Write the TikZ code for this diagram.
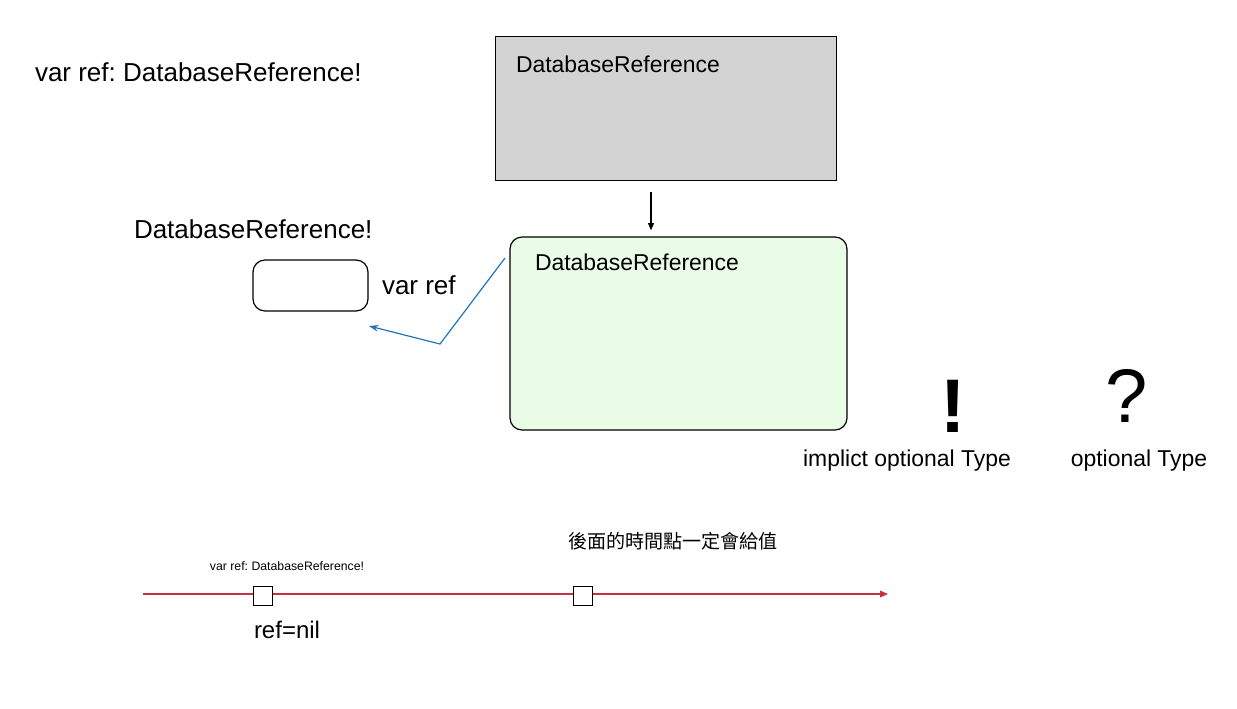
\documentclass[tikz,border=0pt]{standalone}
\usepackage{fontspec}
\setmainfont{Liberation Sans}
\newfontfamily\cjk{Noto Sans CJK TC}
\usetikzlibrary{arrows.meta}
\definecolor{boxgray}{HTML}{D3D3D3}
\definecolor{boxgreen}{HTML}{E8FCE6}
\definecolor{lineblue}{HTML}{1F74BF}
\definecolor{linered}{HTML}{C8303F}
\frenchspacing
\tikzset{
  lbl/.style={inner sep=0pt, outer sep=0pt, font=#1},
  lbl/.default={\fontsize{19.5}{22}\selectfont},
  bigbox/.style={draw=black, line width=0.9pt, inner sep=0pt, outer sep=0pt},
  tick/.style={draw=black, fill=white, line width=0.9pt, minimum width=14pt, minimum height=14pt, inner sep=0pt},
}
\begin{document}
\begin{tikzpicture}[x=0.75pt, y=-0.75pt]
\useasboundingbox (0,0) rectangle (1237,708);
% title
\node[lbl, anchor=west] (title) at (35,72) {var ref: DatabaseReference!};
% gray box
\node[bigbox, fill=boxgray, minimum width=256pt, minimum height=108.5pt] (gray) at (666,108.5) {};
\node[lbl={\fontsize{17.2}{20}\selectfont}, anchor=west] (graylbl) at (516,64) {DatabaseReference};
% green box
\node[bigbox, fill=boxgreen, rounded corners=9pt, minimum width=252.75pt, minimum height=144.75pt] (green) at (678.5,333.5) {};
\node[lbl={\fontsize{17.2}{20}\selectfont}, anchor=west] (greenlbl) at (535,262) {DatabaseReference};
% arrow gray -> green
\draw[line width=0.9pt, -{Triangle[length=5.5pt,width=4.5pt]}, shorten <=8pt, shorten >=5pt] (gray.south -| 651,0) -- (green.north -| 651,0);
% left label and small box
\node[lbl, anchor=west] (dbr) at (134,229) {DatabaseReference!};
\node[bigbox, fill=white, rounded corners=9pt, minimum width=86.25pt, minimum height=38.25pt] (var) at (310.5,285.5) {};
\node[lbl, anchor=west] (varlbl) at (382,285) {var ref};
% blue connector
\coordinate (bstart) at (505,258);
\coordinate (bbend) at (440,344);
\coordinate (bend) at (369,326);
\draw[lineblue, line width=0.9pt, -{Stealth[length=7pt,width=5pt]}] (bstart) -- (bbend) -- (bend);
% ! and ?
\node[lbl={\fontsize{57}{60}\selectfont\bfseries}] (excl) at (953,406) {!};
\node[lbl={\fontsize{57}{60}\selectfont}] (ques) at (1127,396) {?};
\node[lbl={\fontsize{17.2}{20}\selectfont}] (impl) at (907,461) {implict optional Type};
\node[lbl={\fontsize{17.2}{20}\selectfont}] (opt) at (1139,461) {optional Type};
% timeline
\node[lbl={\fontsize{14.3}{16}\cjk}] (later) at (673,541) {後面的時間點一定會給值};
\node[lbl={\fontsize{9.2}{11}\selectfont}] (small) at (287,566) {var ref: DatabaseReference!};
\coordinate (tstart) at (143,594);
\coordinate (tend) at (888,594);
\draw[linered, line width=0.9pt, -{Triangle[length=6pt,width=5pt]}] (tstart) -- (tend);
\node[tick] (t1) at (263,596) {};
\node[tick] (t2) at (583,596) {};
\node[lbl={\fontsize{18}{20}\selectfont}, anchor=west] (nil) at (254,630) {ref=nil};
\end{tikzpicture}
\end{document}
